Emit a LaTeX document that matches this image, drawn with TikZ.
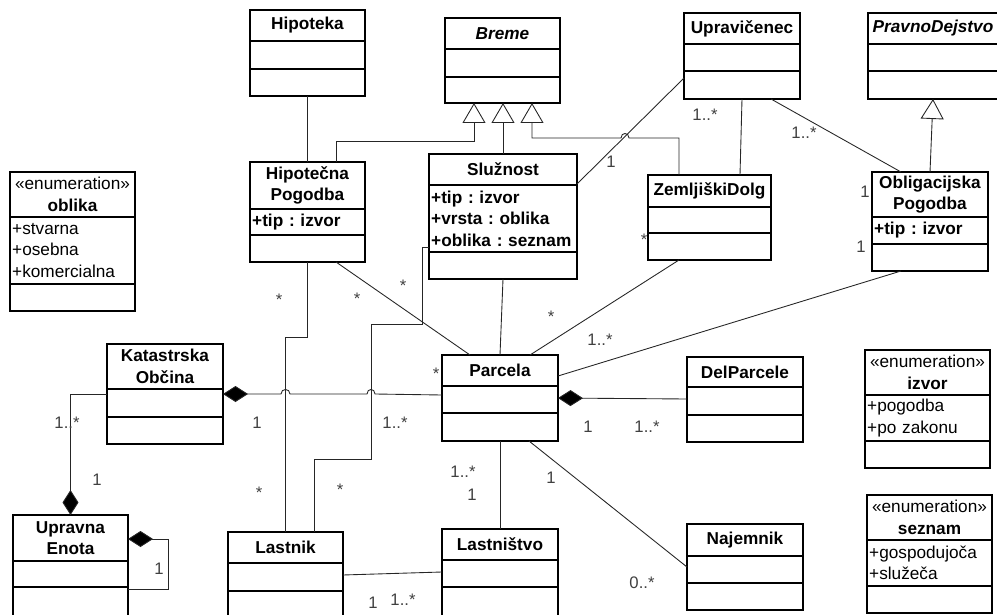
\documentclass[tikz,border=0pt]{standalone}
\usepackage{fontspec}
\setmainfont{Liberation Sans}
\usetikzlibrary{arrows.meta}

\newcommand{\pxu}{0.02cm}
\tikzset{
	cls/.style={draw, line width=0.8pt, inner sep=1pt, outer sep=0pt, anchor=north, align=center},
	assoc/.style={line width=0.5pt, color=black!85},
	gen/.style={assoc, -{Triangle[open, fill=white, length=0.4cm, width=0.46cm]}},
	comp/.style={assoc, {Diamond[fill=black, length=0.5cm, width=0.32cm]}-},
	mult/.style={inner sep=0pt, color=black!75, font=\fontsize{9.5}{11}\selectfont},
}

% class: name, top left, width, title/attribute/operation heights, title, attributes
\newcommand{\umlclass}[8]{%
	\node[cls, anchor=north west, minimum width=#3*\pxu, minimum height=#4*\pxu] (#1) at (#2) {#7};
	\node[cls, minimum width=#3*\pxu, minimum height=#5*\pxu, text width=#3*\pxu-2.5pt, align=left] (#1-a) at (#1.south) {#8};
	\node[cls, minimum width=#3*\pxu, minimum height=#6*\pxu] (#1-o) at (#1-a.south) {};
}

\begin{document}
\frenchspacing
\begin{tikzpicture}[x=0.02cm, y=-0.02cm, font=\fontsize{9.8}{12.3}\selectfont]
		%%%%% START %%%%%
		\useasboundingbox (0,0) rectangle (997,615);
		\clip (0,0) rectangle (997,615);
		
		%%%%% CLASSES %%%%%
		\umlclass{hip}{250,10}{115}{31}{28}{27}{\textbf{Hipoteka}}{}
		\umlclass{hippog}{250,162}{115}{47}{26}{27}{\textbf{Hipotečna}\\\textbf{Pogodba}}{\textbf{+tip : izvor}}
		\umlclass{oblika}{10,172}{125}{45}{67}{27}{«enumeration»\\\textbf{oblika}}{+stvarna\\+osebna\\+komercialna}
		\umlclass{breme}{445,18}{115}{31}{28}{26}{\textbf{\textit{Breme}}}{}
		\umlclass{sluz}{429,154}{148}{31}{67}{27}{\textbf{Služnost}}{\textbf{+tip : izvor}\\\textbf{+vrsta : oblika}\\\textbf{+oblika : seznam}}
		\umlclass{zd}{648,175}{123}{32}{26}{27}{\textbf{ZemljiškiDolg}}{}
		\umlclass{upr}{684,13}{116}{31}{27}{28}{\textbf{Upravičenec}}{}
		\umlclass{pd}{868,13}{130}{31}{27}{28}{\textbf{\textit{PravnoDejstvo}}}{}
		\umlclass{obl}{872,172}{116}{45}{27}{27}{\textbf{Obligacijska}\\\textbf{Pogodba}}{\textbf{+tip : izvor}}
		\umlclass{kat}{107,344}{116}{45}{28}{27}{\textbf{Katastrska}\\\textbf{Občina}}{}
		\umlclass{ue}{13,515}{115}{46}{26}{30}{\textbf{Upravna}\\\textbf{Enota}}{}
		\umlclass{last}{228,532}{115}{31}{28}{30}{\textbf{Lastnik}}{}
		\umlclass{lastn}{442,529}{116}{31}{27}{30}{\textbf{Lastništvo}}{}
		\umlclass{parc}{442,355}{116}{31}{27}{28}{\textbf{Parcela}}{}
		\umlclass{delp}{687,357}{116}{30}{28}{27}{\textbf{DelParcele}}{}
		\umlclass{naj}{687,524}{116}{32}{27}{27}{\textbf{Najemnik}}{}
		\umlclass{izvor}{865,350}{125}{45}{46}{27}{«enumeration»\\\textbf{izvor}}{+pogodba\\+po zakonu}
		\umlclass{seznam}{867,495}{125}{45}{46}{27}{«enumeration»\\\textbf{seznam}}{+gospodujoča\\+služeča}
		
		%%%%% GENERALISATION %%%%%
		\draw[gen] (hippog.north -| 336,0) |- (474,141) -- (breme-o.south -| 474,0);
		\draw[gen] (sluz.north) -- (breme-o.south -| sluz.north);
		\draw[gen] (zd.north -| 679,0) |- (629,138) .. controls (629,132) and (621,132) .. (621,138) -- (532,138) -- (breme-o.south -| 532,0);
		\draw[gen] (obl.north) -- (pd-o.south);
		
		%%%%% ASSOCIATIONS %%%%%
		\draw[assoc] (hip-o.south) -- (hippog.north);
		\draw[assoc] (upr-o.west |- 0,78) -- (sluz.east |- 0,184);
		\draw[assoc] (upr-o.south) -- (zd.north -| 740,0);
		\draw[assoc] (upr-o.south -| 771,0) -- (obl.north -| 901,0);
		\draw[assoc] (sluz-o.south) -- (parc.north);
		\draw[assoc] (zd-o.south -| 679,0) -- (parc.north -| 530,0);
		\draw[assoc] (obl-o.south -| 901,0) -- (parc.east |- 0,376);
		\draw[assoc] (hippog-o.south -| 336,0) -- (parc.north -| 470,0);
		\draw[assoc] (hippog-o.south) |- (last.north |- 0,337) -- (last.north);
		\draw[assoc] (sluz-a.west |- 0,247) -| (422,324) -| (371,459) -| (last.north -| 314,0);
		\draw[assoc] (last-a.east |- 0,575) -- (lastn-a.west |- 0,572);
		\draw[assoc] (parc-o.south) -- (lastn.north);
		\draw[assoc] (parc-o.south -| 529,0) -- (naj-a.west |- 0,567);
		
		%%%%% COMPOSITION %%%%%
		\draw[comp] (kat-a.east |- 0,394) -- (281,394) .. controls (281,388) and (290,388) .. (290,394) -- (367,394) .. controls (367,388) and (375,388) .. (375,394) -- (parc-a.west |- 0,395);
		\draw[comp] (ue.north) |- (kat-a.west |- 0,394);
		\draw[comp] (ue.east |- 0,539) -- (168,539) |- (ue-o.east |- 0,589);
		\draw[comp] (parc-a.east |- 0,398) -- (delp-a.west |- 0,399);
		
		%%%%% MULTIPLICITIES %%%%%
		\node[mult] (m1) at (279,300) {*};
		\node[mult] (m2) at (357,299) {*};
		\node[mult] (m3) at (403,286) {*};
		\node[mult] (m4) at (611,162) {1};
		\node[mult] (m5) at (705,115) {1..*};
		\node[mult] (m6) at (804,133) {1..*};
		\node[mult] (m7) at (865,192) {1};
		\node[mult] (m8) at (861,247) {1};
		\node[mult] (m9) at (644,240) {*};
		\node[mult] (m10) at (551,317) {*};
		\node[mult] (m11) at (600,340) {1..*};
		\node[mult] (m12) at (436,374) {*};
		\node[mult] (m13) at (257,423) {1};
		\node[mult] (m14) at (395,423) {1..*};
		\node[mult] (m15) at (67,423) {1..*};
		\node[mult] (m16) at (97,480) {1};
		\node[mult] (m17) at (259,493) {*};
		\node[mult] (m18) at (340,490) {*};
		\node[mult] (m19) at (463,472) {1..*};
		\node[mult] (m20) at (472,495) {1};
		\node[mult] (m21) at (588,427) {1};
		\node[mult] (m22) at (647,427) {1..*};
		\node[mult] (m23) at (551,478) {1};
		\node[mult] (m24) at (642,583) {0..*};
		\node[mult] (m25) at (159,569) {1};
		\node[mult] (m26) at (373,603) {1};
		\node[mult] (m27) at (403,600) {1..*};
		
		%%%%% END %%%%%
\end{tikzpicture}
\end{document}
